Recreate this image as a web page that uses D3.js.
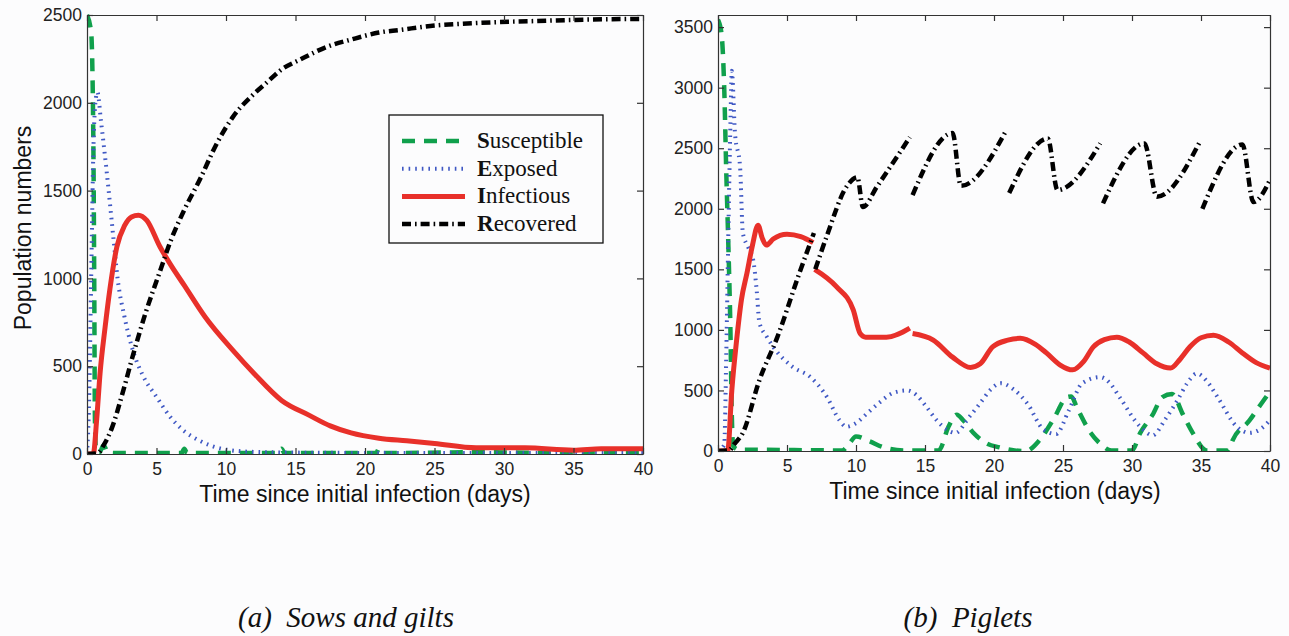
<!DOCTYPE html>
<html>
<head>
<meta charset="utf-8">
<script src="https://cdn.jsdelivr.net/npm/d3@7"></script>
<style>
  body { margin: 0; background: #fcfcfd; }
  svg { display: block; }
  .axis text { font-family: 'Liberation Sans', Arial, sans-serif; font-size: 17.5px; fill: #222; }
  .axis path, .axis line { stroke: #333; stroke-width: 1.2; }
  .label { font-family: 'Liberation Sans', Arial, sans-serif; font-size: 23px; fill: #111; }
  .legend text { font-family: 'Liberation Serif', 'Times New Roman', serif; font-size: 23px; fill: #111; }
  .caption { font-family: 'Liberation Serif', 'Times New Roman', serif; font-style: italic; font-size: 29px; fill: #111; }
</style>
</head>
<body>
<div id="graph"></div>
<script>
// Tick labels
const xTicks = [0, 5, 10, 15, 20, 25, 30, 35, 40]
const sowsYTicks = [0, 500, 1000, 1500, 2000, 2500]
const pigletYTicks = [0, 500, 1000, 1500, 2000, 2500, 3000, 3500]
const seriesNames = ['Susceptible', 'Exposed', 'Infectious', 'Recovered']

// (a) Sows and gilts, time (days) and numbers
const sowsSusT = [0, 0.3, 0.45, 0.52, 0.57, 0.65, 0.9, 1.2, 1.5, 2, 6.8, 7, 7.2, 13.8, 14, 14.2, 20.8, 21, 21.2, 28, 35, 40]
const sowsSus = [2500, 2400, 1830, 1000, 200, 20, 10, 50, 8, 5, 5, 30, 5, 5, 30, 5, 5, 30, 5, 10, 5, 5]
const sowsExpT = [0, 0.15, 0.3, 0.45, 0.6, 0.75, 1.0, 1.4, 1.9, 2.2, 2.7, 3.3, 4, 5, 6, 7, 8, 9, 10, 12, 15, 20, 25, 30, 35, 40]
const sowsExp = [0, 300, 1000, 1700, 2000, 2060, 1900, 1620, 1230, 1000, 780, 590, 450, 325, 210, 130, 80, 45, 25, 12, 8, 6, 5, 5, 5, 5]
const sowsInfT = [0, 0.45, 0.7, 0.94, 1.3, 1.65, 2.15, 2.7, 3.2, 3.7, 4.3, 5.25, 6, 7, 8.5, 10.5, 12, 14, 16, 17.5, 19, 21, 23, 25, 28, 31.5, 35, 37, 40]
const sowsInf = [0, 0, 200, 460, 720, 940, 1180, 1300, 1350, 1360, 1330, 1180, 1080, 960, 780, 590, 460, 305, 220, 160, 120, 90, 75, 60, 35, 35, 22, 30, 30]
const sowsRecT = [0, 0.8, 1.2, 1.8, 2.5, 3.3, 4.2, 5.25, 6, 7, 8.1, 9.35, 10.5, 12, 13, 14, 15.3, 17.3, 19, 21, 22.5, 25, 27, 29.7, 32, 35, 40]
const sowsRec = [0, 5, 50, 150, 330, 560, 800, 1040, 1210, 1390, 1560, 1770, 1920, 2050, 2120, 2190, 2245, 2320, 2360, 2400, 2415, 2440, 2450, 2460, 2465, 2472, 2478]

// (b) Piglets, null marks a break in the curve
const pigSusT = [0, 0.25, 0.45, 0.6, 0.75, 0.9, 1.0, 1.1, 1.5, 2, 9, 9.5, 10, 11, 12, 13.5, 16, 16.7, 17.3, 17.8, 18.5, 19.5, 20.4, 21.5, 22.3, 23.3, 24.3, 25.3, 25.6, 26, 27, 27.7, 28.5, 30, 30.6, 31.5, 32.2, 32.9, 33.7, 34.4, 35.4, 37, 37.3, 38.5, 39.3, 40]
const pigSus = [3560, 3450, 3000, 2300, 1700, 1000, 300, 40, 10, 10, 5, 60, 120, 80, 30, 5, 5, 200, 300, 250, 150, 60, 30, 5, 0, 90, 260, 445, 450, 360, 150, 60, 5, 5, 150, 300, 445, 470, 300, 150, 5, 5, 90, 250, 380, 490]
const pigExpT = [0, 0.45, 0.6, 0.75, 0.9, 1.0, 1.23, 1.6, 1.8, 2.2, 2.55, 2.8, 3.0, 3.5, 4.0, 5.4, 6.7, 7.9, 8.8, 9.3, 10, 10.8, 11.7, 12.7, 13.7, 14.4, 15.1, 15.8, 16.6, 17.2, 18.2, 19, 19.7, 20.5, 21.4, 22.4, 23.6, 24.5, 25.4, 26.4, 27.7, 28.4, 29.1, 30.6, 31.5, 32.4, 33.3, 34, 34.7, 35.4, 36.2, 37.6, 38.5, 39.3, 40]
const pigExp = [0, 50, 800, 1800, 2700, 3140, 2625, 2345, 1800, 1680, 1577, 1330, 1060, 950, 860, 695, 610, 445, 255, 200, 230, 310, 400, 480, 500, 460, 365, 260, 175, 150, 280, 395, 500, 560, 510, 395, 175, 140, 330, 560, 610, 560, 445, 200, 130, 260, 420, 560, 640, 580, 445, 200, 150, 180, 255]
const pigInfT = [0, 0.7, 1.0, 1.35, 1.7, 2.1, 2.5, 2.9, 3.2, 3.5, 4, 5, 6, 6.9, 6.95, 7.0, 8.6, 9.8, 10.3, 10.7, 12.2, 13.9, 14.0, 14.1, 15.6, 17, 18.3, 19, 19.9, 21, 21.9, 23, 23.8, 24.8, 25.7, 26.5, 27.2, 28, 28.9, 29.8, 30.8, 31.8, 32.8, 33.5, 34.2, 35, 35.9, 37, 38, 39, 40]
const pigInf = [0, 0, 500, 916, 1250, 1470, 1700, 1865, 1760, 1700, 1750, 1790, 1770, 1720, null, 1500, 1355, 1165, 970, 940, 940, 1015, null, 970, 916, 775, 690, 720, 860, 915, 930, 880, 810, 710, 670, 740, 860, 920, 940, 900, 810, 720, 685, 760, 860, 935, 955, 900, 810, 730, 685]
const pigRecT = [0, 0.8, 1.2, 1.8, 3.0, 4.3, 5.9, 6.95, 7.0, 7.05, 7.9, 9.3, 10.1, 10.5, 11.5, 13.9, 14.0, 14.1, 17.0, 17.6, 20.9, 21.0, 21.1, 23.9, 24.6, 27.7, 27.8, 27.9, 30.9, 31.8, 34.9, 35.0, 35.1, 38.0, 38.8, 40]
const pigRec = [0, 5, 60, 150, 585, 940, 1470, 1800, null, 1500, 1780, 2180, 2260, 2015, 2180, 2590, null, 2113, 2625, 2190, 2650, null, 2130, 2580, 2155, 2540, null, 2045, 2540, 2100, 2550, null, 2000, 2530, 2055, 2240]

const width = 1289, height = 636

// line styles for S, E, I, R
const styles = [
  { color: '#10a04c', width: 4.5, dash: '13,9' },
  { color: '#3f58c4', width: 4, dash: '1.6,5' },
  { color: '#e8302a', width: 5, dash: null },
  { color: '#000000', width: 4.5, dash: '9,4,1.6,4' }
]

const svg = d3.select('#graph')
  .append('svg')
  .attr('width', width)
  .attr('height', height)

svg.append('rect').attr('width', width).attr('height', height).attr('fill', '#fcfcfd')

function drawPanel(p) {
  const x = d3.scaleLinear().domain([0, 40]).range([p.left, p.right])
  const y = d3.scaleLinear().domain([0, p.yMax]).range([p.bottom, p.top])

  svg.append('clipPath').attr('id', p.id)
    .append('rect')
    .attr('x', p.left).attr('y', p.top - 3)
    .attr('width', p.right - p.left).attr('height', p.bottom - p.top + 3)

  const line = d3.line()
    .defined(d => d.v !== null)
    .x(d => x(d.t))
    .y(d => y(d.v))
    .curve(d3.curveMonotoneX)

  p.series.forEach((s, i) => {
    const pts = s.t.map((t, j) => ({ t: t, v: s.v[j] }))
    svg.append('path')
      .datum(pts)
      .attr('clip-path', 'url(#' + p.id + ')')
      .attr('fill', 'none')
      .attr('stroke', styles[i].color)
      .attr('stroke-width', styles[i].width)
      .attr('stroke-dasharray', styles[i].dash)
      .attr('d', line)
  })

  // box axes with inward ticks
  const fmt = d3.format('d')
  svg.append('g').attr('class', 'axis')
    .attr('transform', 'translate(0,' + p.bottom + ')')
    .call(d3.axisBottom(x).tickValues(xTicks).tickFormat(fmt).tickSizeInner(-6).tickSizeOuter(0).tickPadding(9))
  svg.append('g').attr('class', 'axis')
    .attr('transform', 'translate(0,' + p.top + ')')
    .call(d3.axisTop(x).tickValues(xTicks).tickSizeInner(-6).tickSizeOuter(0).tickFormat(''))
  svg.append('g').attr('class', 'axis')
    .attr('transform', 'translate(' + p.left + ',0)')
    .call(d3.axisLeft(y).tickValues(p.yTicks).tickFormat(fmt).tickSizeInner(-6).tickSizeOuter(0).tickPadding(5))
  svg.append('g').attr('class', 'axis')
    .attr('transform', 'translate(' + p.right + ',0)')
    .call(d3.axisRight(y).tickValues(p.yTicks).tickSizeInner(-6).tickSizeOuter(0).tickFormat(''))

  svg.selectAll('.axis .domain').attr('stroke', '#333')

  svg.append('text').attr('class', 'label')
    .attr('x', p.xLabelX).attr('y', p.xLabelY)
    .attr('text-anchor', 'middle')
    .text('Time since initial infection (days)')

  svg.append('text').attr('class', 'caption')
    .attr('x', p.captionX).attr('y', 627)
    .attr('text-anchor', 'middle')
    .attr('xml:space', 'preserve')
    .text(p.caption)
}

drawPanel({
  id: 'clipA', left: 87, right: 643, top: 15, bottom: 454, yMax: 2500, yTicks: sowsYTicks,
  series: [{ t: sowsSusT, v: sowsSus }, { t: sowsExpT, v: sowsExp }, { t: sowsInfT, v: sowsInf }, { t: sowsRecT, v: sowsRec }],
  xLabelX: 365, xLabelY: 502, captionX: 346, caption: '(a)  Sows and gilts'
})

drawPanel({
  id: 'clipB', left: 718, right: 1270, top: 15, bottom: 451, yMax: 3600, yTicks: pigletYTicks,
  series: [{ t: pigSusT, v: pigSus }, { t: pigExpT, v: pigExp }, { t: pigInfT, v: pigInf }, { t: pigRecT, v: pigRec }],
  xLabelX: 995, xLabelY: 499, captionX: 968, caption: '(b)  Piglets'
})

// y axis label (left panel only)
svg.append('text').attr('class', 'label')
  .attr('transform', 'translate(31,228) rotate(-90)')
  .attr('text-anchor', 'middle')
  .text('Population numbers')

// legend
const legend = svg.append('g').attr('class', 'legend')
legend.append('rect')
  .attr('x', 389).attr('y', 115).attr('width', 214).attr('height', 128)
  .attr('fill', '#fcfcfd').attr('stroke', '#111').attr('stroke-width', 1.3)

seriesNames.forEach((name, i) => {
  const cy = 141 + i * 27.7
  legend.append('line')
    .attr('x1', 402).attr('x2', 465).attr('y1', cy).attr('y2', cy)
    .attr('stroke', styles[i].color)
    .attr('stroke-width', styles[i].width)
    .attr('stroke-dasharray', styles[i].dash)
  const t = legend.append('text').attr('x', 477).attr('y', cy + 7)
  t.append('tspan').attr('font-weight', 'bold').text(name[0])
  t.append('tspan').text(name.slice(1))
})
</script>
</body>
</html>
